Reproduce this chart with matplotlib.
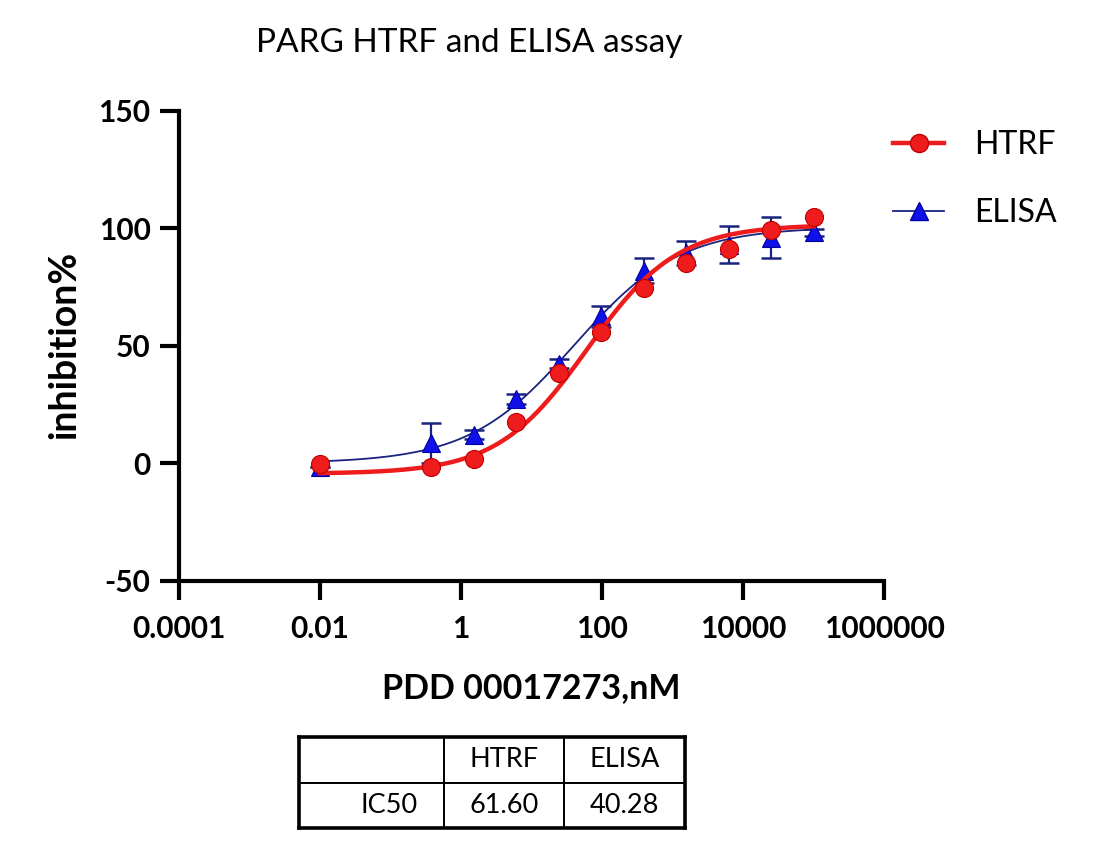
import numpy as np
import matplotlib
matplotlib.use("Agg")
import matplotlib.pyplot as plt
from matplotlib.lines import Line2D

plt.rcParams['font.family'] = ['Lato', 'DejaVu Sans']
plt.rcParams['axes.unicode_minus'] = False

# ---------------- data ----------------
conc_nM = [0.01, 0.381, 1.526, 6.104, 24.41, 97.66, 390.6, 1562.5, 6250, 25000, 100000]
htrf_inh = [-0.5, -1.8, 2.0, 17.6, 38.3, 56.0, 74.5, 85.3, 91.3, 99.4, 104.6]
elisa_inh = [-1.5, 8.5, 12.2, 27.3, 42.3, 62.5, 82.0, 89.5, 93.0, 96.0, 98.2]
elisa_err = [0.0, 8.5, 2.0, 2.0, 2.0, 4.5, 5.5, 5.0, 7.8, 8.7, 1.5]

# 4-parameter logistic fit parameters (bottom, top, IC50, hill)
htrf_fit = dict(bottom=-4.5, top=101.5, ic50=61.60, hill=0.68)
elisa_fit = dict(bottom=0.0, top=100.5, ic50=40.28, hill=0.58)

x_ticks = [1e-4, 1e-2, 1, 1e2, 1e4, 1e6]
x_tick_labels = ["0.0001", "0.01", "1", "100", "10000", "1000000"]
y_ticks = [-50, 0, 50, 100, 150]

table_cols = ["", "HTRF", "ELISA"]
table_rows = [["IC50", "61.60", "40.28"]]

series_names = ["HTRF", "ELISA"]


def four_pl(x, bottom, top, ic50, hill):
    x = np.asarray(x, dtype=float)
    return bottom + (top - bottom) / (1.0 + (ic50 / x) ** hill)


# ---------------- figure ----------------
W, H = 1102, 850
fig = plt.figure(figsize=(W / 100, H / 100), dpi=100)
ax = fig.add_axes([179 / W, (H - 580.7) / H, 705 / W, 470 / H])

red = "#ee1c1c"
red_edge = "#c00000"
blue = "#1010e8"
navy = "#1a237e"

xs = np.logspace(np.log10(conc_nM[0]), np.log10(conc_nM[-1]), 400)

# ELISA
ax.plot(xs, four_pl(xs, **elisa_fit), color=navy, lw=1.3, zorder=2)
ax.errorbar(conc_nM, elisa_inh, yerr=elisa_err, fmt='none', ecolor=navy,
            elinewidth=1.6, capsize=7, capthick=1.8, zorder=3)
ax.plot(conc_nM, elisa_inh, ls='none', marker='^', ms=12.5, mfc=blue,
        mec="#0000a0", mew=0.8, zorder=4)

# HTRF
ax.plot(xs, four_pl(xs, **htrf_fit), color=red, lw=3.2, zorder=5)
ax.plot(conc_nM, htrf_inh, ls='none', marker='o', ms=13, mfc=red,
        mec=red_edge, mew=0.8, zorder=6)

ax.set_xscale('log')
ax.set_xlim(1e-4, 1e6)
ax.set_ylim(-50, 150)
ax.set_xticks(x_ticks)
ax.set_xticklabels(x_tick_labels)
ax.xaxis.set_minor_locator(matplotlib.ticker.NullLocator())
ax.set_yticks(y_ticks)

for s in ['top', 'right']:
    ax.spines[s].set_visible(False)
for s in ['left', 'bottom']:
    ax.spines[s].set_linewidth(3)
    ax.spines[s].set_capstyle('projecting')

ax.tick_params(axis='both', which='major', direction='out', length=13.5,
               width=3, labelsize=21.5, colors='black')
ax.tick_params(axis='x', pad=11)
ax.tick_params(axis='y', pad=7)
for lab in ax.get_xticklabels() + ax.get_yticklabels():
    lab.set_fontweight('bold')

# Titles / labels
fig.text(469 / W, 1 - 43 / H, "PARG HTRF and ELISA assay", ha='center',
         va='center', fontsize=24)
fig.text(64 / W, 1 - 345 / H, "inhibition%", ha='center', va='center',
         rotation=90, fontsize=27, fontweight='bold')
fig.text(531 / W, 1 - 688 / H, "PDD 00017273,nM", ha='center', va='center',
         fontsize=24.5, fontweight='bold')

# Legend
handles = [
    Line2D([], [], color=red, lw=3.2, marker='o', ms=13, mfc=red, mec=red_edge),
    Line2D([], [], color=navy, lw=1.3, marker='^', ms=12.5, mfc=blue, mec="#0000a0"),
]
fig.legend(handles, series_names, loc='upper left',
           bbox_to_anchor=(893 / W, 1 - 130 / H), frameon=False,
           fontsize=23, handlelength=1.6, handletextpad=0.95,
           labelspacing=1.2, borderpad=0, borderaxespad=0)

# Table
tax = fig.add_axes([299 / W, (H - 828) / H, (685 - 299) / W, (828 - 737) / H])
tax.set_xticks([])
tax.set_yticks([])
for s in tax.spines.values():
    s.set_linewidth(2.6)
tbl = tax.table(cellText=[table_cols] + table_rows,
                colWidths=[145 / 386, 120 / 386, 121 / 386],
                bbox=[0, 0, 1, 1], cellLoc='center')
tbl.auto_set_font_size(False)
for (r, c), cell in tbl.get_celld().items():
    cell.set_linewidth(1.4)
    cell.set_text_props(fontsize=19.5)
    if c == 0:
        cell._loc = 'right'
        cell.PAD = 0.18
        cell.get_text().set_horizontalalignment('right')

fig.savefig("out.png", dpi=100)
